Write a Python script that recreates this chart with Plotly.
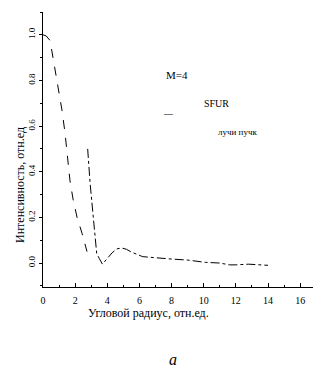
import plotly.graph_objects as go

# Series A (dashed): main lobe
a_x = [0.0, 0.2, 0.44, 0.62, 0.93, 1.18, 1.37, 1.56, 1.68, 1.87, 2.12, 2.43, 2.74]
a_y = [1.0, 0.995, 0.975, 0.90, 0.76, 0.67, 0.57, 0.45, 0.36, 0.28, 0.20, 0.13, 0.05]

# Series B (dash-dot): steep drop, side lobe and tail
b_x = [2.78, 2.93, 3.13, 3.34, 3.5, 3.7, 4.0, 4.3, 4.6, 4.9, 5.2, 5.5, 6.2, 7.0, 7.9, 9.0,
       10.1, 11.0, 11.6, 12.0, 12.8, 14.0]
b_y = [0.50, 0.35, 0.20, 0.043, 0.02, -0.005, 0.02, 0.045, 0.062, 0.066, 0.06, 0.048, 0.028,
       0.022, 0.018, 0.013, 0.003, 0.0, -0.008, -0.008, -0.005, -0.01]

x_ticks = [0, 2, 4, 6, 8, 10, 12, 14, 16]
y_ticks = [0.0, 0.2, 0.4, 0.6, 0.8, 1.0]
y_tick_text = ["0.0", "0.2", "0.4", "0.6", "0.8", "1.0"]

FONT = "Liberation Serif"

fig = go.Figure()
fig.add_trace(go.Scatter(x=a_x, y=a_y, mode="lines", line=dict(color="black", width=1, dash="dash"),
                         showlegend=False))
fig.add_trace(go.Scatter(x=b_x, y=b_y, mode="lines", line=dict(color="black", width=1, dash="dashdot"),
                         showlegend=False))

fig.update_layout(
    width=325, height=374,
    autosize=False,
    margin=dict(l=43, r=12, t=12, b=87, pad=0),
    paper_bgcolor="white", plot_bgcolor="white",
    font=dict(family=FONT, color="black", size=10),
    xaxis=dict(range=[0, 16.8], tickvals=x_ticks, ticks="inside", ticklen=4, tickwidth=1,
               tickcolor="black", showline=True, linecolor="black", linewidth=1,
               showgrid=False, zeroline=False, automargin=False, ticklabelstandoff=4,
               minor=dict(dtick=1, ticks="inside", ticklen=2, tickcolor="black"),
               tickfont=dict(family=FONT, size=10)),
    yaxis=dict(range=[-0.105, 1.1], tickvals=y_ticks, ticktext=y_tick_text, ticks="outside",
               ticklen=3, tickwidth=1, tickcolor="black", showline=True, linecolor="black",
               linewidth=1, showgrid=False, zeroline=False, tickangle=-90, automargin=False,
               minor=dict(dtick=0.1, ticks="outside", ticklen=2, tickcolor="black"),
               tickfont=dict(family=FONT, size=9)),
    annotations=[
        dict(text="Интенсивность, отн.ед", xref="paper", yref="paper", x=-0.085, y=0.371,
             textangle=-90, showarrow=False, xanchor="center", yanchor="middle",
             font=dict(family=FONT, size=12)),
        dict(text="Угловой радиус, отн.ед.", xref="paper", yref="paper", x=0.389, y=-0.095,
             showarrow=False, xanchor="center", yanchor="middle", font=dict(family=FONT, size=12)),
        dict(text="<i>a</i>", xref="paper", yref="paper", x=0.481, y=-0.265,
             showarrow=False, xanchor="center", yanchor="middle", font=dict(family=FONT, size=16)),
        dict(text="M=4", xref="paper", yref="paper", x=0.496, y=0.771,
             showarrow=False, xanchor="center", yanchor="middle", font=dict(family=FONT, size=11)),
        dict(text="SFUR", xref="paper", yref="paper", x=0.644, y=0.669,
             showarrow=False, xanchor="center", yanchor="middle", font=dict(family=FONT, size=10)),
        dict(text="—", xref="paper", yref="paper", x=0.463, y=0.633,
             showarrow=False, xanchor="center", yanchor="middle", font=dict(family=FONT, size=9)),
        dict(text="лучи пучк", xref="paper", yref="paper", x=0.719, y=0.564,
             showarrow=False, xanchor="center", yanchor="middle", font=dict(family=FONT, size=9)),
    ],
)

fig.write_html("out.html", config={"displayModeBar": False},
               post_script="document.body.style.margin='0';document.body.style.overflow='hidden';")
